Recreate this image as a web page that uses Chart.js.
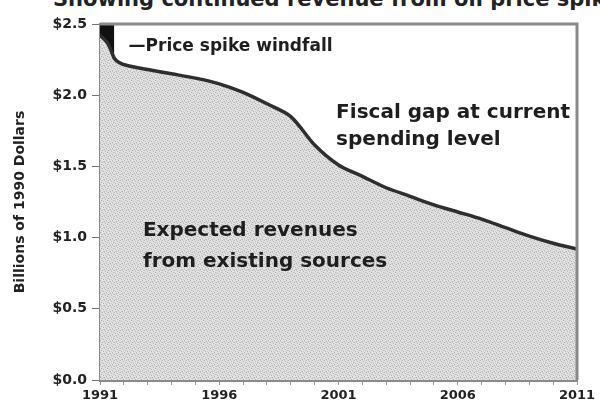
<!DOCTYPE html>
<html>
<head>
<meta charset="utf-8">
<script src="https://cdn.jsdelivr.net/npm/chart.js@4.4.1/dist/chart.umd.min.js"></script>
<style>
  html, body { margin: 0; padding: 0; background: #fff; }
  .wrap { position: relative; width: 600px; height: 410px; overflow: hidden; }
  .cut-title {
    position: absolute; left: 53px; top: -13px; white-space: nowrap;
    font: bold 21px "DejaVu Sans", sans-serif; color: #222;
  }
  canvas { position: absolute; left: 0; top: 0; }
</style>
</head>
<body>
<div class="wrap">
  <div class="cut-title">Showing continued revenue from oil price spike</div>
  <canvas id="chart" width="600" height="410"></canvas>
</div>
<script>
// years on a linear axis (first few fractional points describe the 1991 spike)
const years = [1991, 1991.3, 1991.45, 1991.6, 1991.8, 1992.1, 1993, 1994, 1995, 1996, 1997, 1998, 1999,
  2000, 2001, 2002, 2003, 2004, 2005, 2006, 2007, 2008, 2009, 2010, 2011];
// expected revenues, billions of 1990 dollars
const revenues = [2.42, 2.37, 2.32, 2.26, 2.23, 2.21, 2.18, 2.15, 2.12, 2.08, 2.02, 1.94, 1.85,
  1.65, 1.51, 1.43, 1.35, 1.29, 1.23, 1.18, 1.13, 1.07, 1.01, 0.96, 0.92];
// price spike windfall: top of the band, over the first points only
const windfallYears = [1991, 1991.3, 1991.45, 1991.6];
const windfallTop = [2.5, 2.5, 2.5, 2.5];
const yTicks = [0, 0.5, 1.0, 1.5, 2.0, 2.5];
const xLabels = [1991, 1996, 2001, 2006, 2011];

const FONT = "'DejaVu Sans', sans-serif";

// stippled gray fill like the newsprint screen
function stipple() {
  const c = document.createElement("canvas");
  c.width = 6; c.height = 6;
  const g = c.getContext("2d");
  g.fillStyle = "#e2e2e2";
  g.fillRect(0, 0, 6, 6);
  g.fillStyle = "#b4b4b4";
  [[0, 0], [3, 1], [1, 3], [4, 4], [5, 2], [2, 5]].forEach(([x, y]) => g.fillRect(x, y, 1, 1));
  g.fillStyle = "#cbcbcb";
  [[2, 0], [5, 0], [0, 2], [3, 3], [1, 5], [4, 5]].forEach(([x, y]) => g.fillRect(x, y, 1, 1));
  return g.createPattern(c, "repeat");
}

const ctx = document.getElementById("chart").getContext("2d");

const annotations = {
  id: "annotations",
  afterDraw(chart) {
    const { ctx, chartArea: a, scales: { x, y } } = chart;
    ctx.save();
    // top and right frame
    ctx.strokeStyle = "#8a8a8a";
    ctx.lineWidth = 3;
    ctx.beginPath();
    ctx.moveTo(a.left, a.top);
    ctx.lineTo(a.right, a.top);
    ctx.lineTo(a.right, a.bottom);
    ctx.stroke();

    ctx.fillStyle = "#1e1e1e";
    ctx.textBaseline = "middle";
    ctx.font = "bold 17px " + FONT;
    ctx.fillText("\u2014Price spike windfall", x.getPixelForValue(1992.2), 47);

    ctx.font = "bold 20px " + FONT;
    ctx.fillText("Fiscal gap at current", x.getPixelForValue(2000.9), y.getPixelForValue(1.875));
    ctx.fillText("spending level", x.getPixelForValue(2000.9), y.getPixelForValue(1.685));

    ctx.fillText("Expected revenues", x.getPixelForValue(1992.8), y.getPixelForValue(1.05));
    ctx.fillText("from existing sources", x.getPixelForValue(1992.8), y.getPixelForValue(0.83));
    ctx.restore();
  }
};

new Chart(ctx, {
  type: "line",
  data: {
    datasets: [
      {
        label: "Expected revenues",
        data: years.map((yr, i) => ({ x: yr, y: revenues[i] })),
        borderColor: "#2e2e2e",
        borderWidth: 3.5,
        backgroundColor: stipple(),
        fill: "origin",
        tension: 0.3,
        pointRadius: 0
      },
      {
        label: "Price spike windfall",
        data: windfallYears.map((yr, i) => ({ x: yr, y: windfallTop[i] })),
        borderWidth: 0,
        backgroundColor: "#111",
        fill: 0,
        pointRadius: 0
      }
    ]
  },
  options: {
    responsive: false,
    animation: false,
    layout: { padding: { top: 24, right: 23, left: 0, bottom: 0 } },
    plugins: { legend: { display: false }, tooltip: { enabled: false } },
    scales: {
      x: {
        type: "linear",
        min: 1991,
        max: 2011,
        afterFit: s => { s.height = 30; },
        afterBuildTicks: s => {
          s.ticks = [];
          for (let yr = 1991; yr <= 2011; yr++) s.ticks.push({ value: yr });
        },
        border: { display: true, color: "#8a8a8a", width: 3 },
        grid: { drawOnChartArea: false, drawTicks: true, tickLength: 5, color: "#9a9a9a" },
        ticks: {
          autoSkip: false,
          maxRotation: 0,
          padding: 3,
          color: "#222",
          font: { family: FONT, size: 13, weight: "bold" },
          callback: v => (xLabels.includes(v) ? String(v) : "")
        }
      },
      y: {
        min: 0,
        max: 2.5,
        afterFit: s => { s.width = 100; },
        afterBuildTicks: s => { s.ticks = yTicks.map(v => ({ value: v })); },
        border: { display: true, color: "#8a8a8a", width: 3 },
        grid: { drawOnChartArea: false, drawTicks: true, tickLength: 8, color: "#777" },
        ticks: {
          padding: 5,
          color: "#222",
          font: { family: FONT, size: 14, weight: "bold" },
          callback: v => "$" + v.toFixed(1)
        },
        title: {
          display: true,
          text: "Billions of 1990 Dollars",
          color: "#222",
          padding: { top: 12, bottom: 0 },
          font: { family: FONT, size: 14, weight: "bold" }
        }
      }
    }
  },
  plugins: [annotations]
});
</script>
</body>
</html>
